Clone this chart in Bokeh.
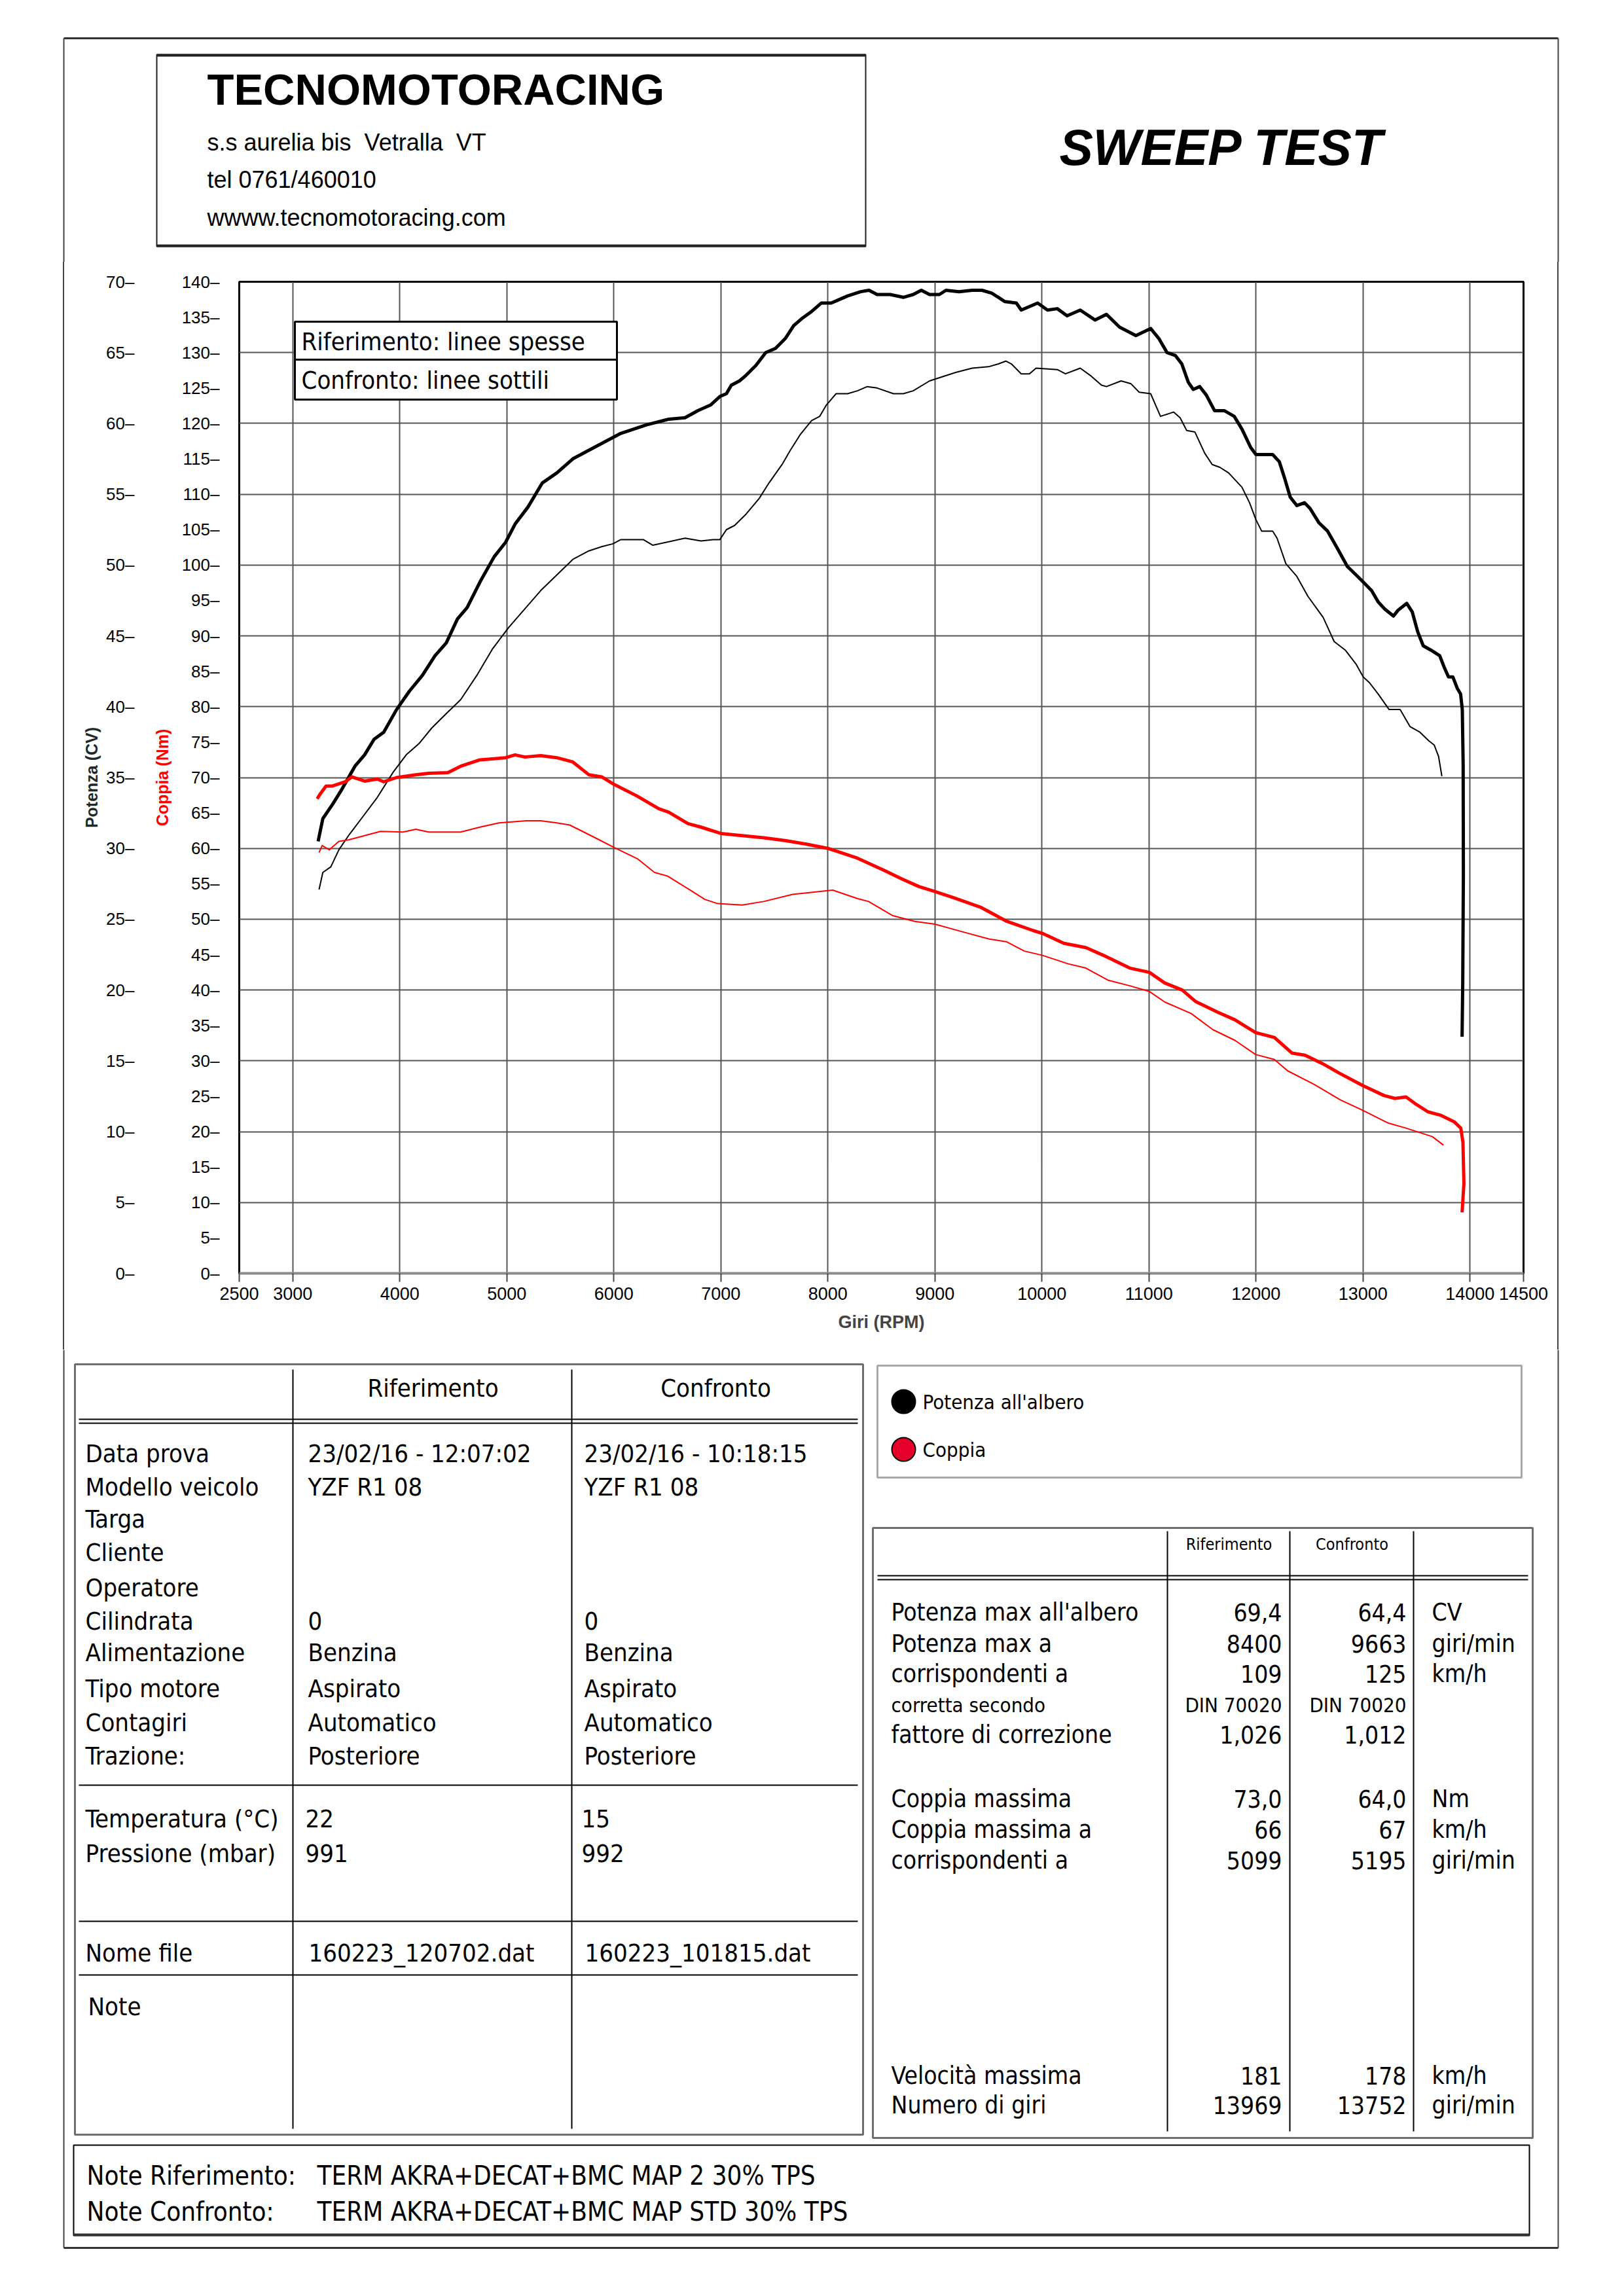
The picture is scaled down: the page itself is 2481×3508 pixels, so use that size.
from bokeh.plotting import figure
from bokeh.models import (Range1d, LinearAxis, FixedTicker, CustomJSTickFormatter,
                          BoxAnnotation, Label, Div)
from bokeh.layouts import column, row
from bokeh.embed import file_html
from bokeh.resources import INLINE

# ---------------------------------------------------------------- data
RPM_TICKS = [2500, 3000, 4000, 5000, 6000, 7000, 8000, 9000, 10000, 11000, 12000, 13000, 14000, 14500]
RPM_GRID = [3000, 4000, 5000, 6000, 7000, 8000, 9000, 10000, 11000, 12000, 13000, 14000]
CV_TICKS = [0, 5, 10, 15, 20, 25, 30, 35, 40, 45, 50, 55, 60, 65, 70]
NM_TICKS = [0, 5, 10, 15, 20, 25, 30, 35, 40, 45, 50, 55, 60, 65, 70, 75, 80, 85, 90, 95,
            100, 105, 110, 115, 120, 125, 130, 135, 140]
NM_GRID = [10, 20, 30, 40, 50, 60, 70, 80, 90, 100, 110, 120, 130]

ref_power_rpm = [3237, 3281, 3371, 3461, 3581, 3671, 3760, 3850, 3970, 4090, 4210, 4329, 4434, 4539,
                 4629, 4749, 4883, 4988, 5078, 5198, 5332, 5467, 5617, 5766, 5916, 6066, 6305, 6515,
                 6665, 6784, 6904, 6991, 7052, 7098, 7174, 7236, 7328, 7419, 7511, 7603, 7680, 7756,
                 7848, 7940, 8031, 8093, 8185, 8307, 8384, 8460, 8582, 8705, 8797, 8873, 8950, 9042,
                 9103, 9225, 9348, 9440, 9531, 9654, 9761, 9807, 9960, 10052, 10144, 10235, 10358,
                 10496, 10603, 10725, 10878, 11016, 11092, 11169, 11246, 11307, 11368, 11414, 11475,
                 11536, 11613, 11704, 11797, 11869, 11951, 12000, 12094, 12156, 12218, 12269, 12320,
                 12382, 12454, 12505, 12587, 12669, 12752, 12854, 12936, 13002, 13080, 13142, 13203,
                 13285, 13326, 13409, 13460, 13511, 13563, 13634, 13717, 13758, 13799, 13840, 13881,
                 13912, 13928, 13936, 13938, 13932, 13926]
ref_power_cv = [30.5, 32.1, 33.1, 34.2, 35.8, 36.6, 37.7, 38.2, 39.8, 41.1, 42.2, 43.6, 44.5, 46.2,
                47.0, 48.8, 50.6, 51.6, 52.9, 54.1, 55.8, 56.5, 57.5, 58.1, 58.7, 59.3, 59.9, 60.3,
                60.4, 60.9, 61.3, 61.9, 62.1, 62.7, 63.0, 63.4, 64.1, 65.0, 65.3, 66.0, 66.9, 67.4,
                67.9, 68.5, 68.5, 68.7, 69.0, 69.3, 69.4, 69.1, 69.1, 68.9, 69.1, 69.4, 69.1, 69.1,
                69.4, 69.3, 69.4, 69.4, 69.2, 68.6, 68.5, 68.0, 68.5, 68.0, 68.1, 67.6, 68.0,
                67.3, 67.7, 66.8, 66.2, 66.7, 66.0, 65.0, 64.8, 64.2, 62.9, 62.4, 62.6,
                62.0, 60.9, 60.9, 60.5, 59.6, 58.3, 57.8, 57.8, 57.8, 57.3, 56.1, 54.8,
                54.2, 54.4, 54.0, 53.0, 52.4, 51.3, 49.9, 49.3, 48.8, 48.2, 47.4, 46.9,
                46.4, 46.8, 47.3, 46.7, 45.3, 44.3, 44.0, 43.6, 42.8, 42.1, 42.1, 41.3,
                40.9, 39.8, 35.9, 28.2, 20.5, 16.7]

conf_power_rpm = [3246, 3281, 3356, 3431, 3521, 3671, 3790, 3940, 4060, 4180, 4299, 4419, 4569, 4719,
                  4868, 5018, 5168, 5317, 5467, 5617, 5766, 5886, 5991, 6066, 6275, 6365, 6665, 6814,
                  6930, 6991, 7052, 7129, 7236, 7358, 7450, 7572, 7649, 7741, 7848, 7924, 7986, 8077,
                  8185, 8276, 8368, 8460, 8613, 8705, 8797, 8950, 9072, 9195, 9348, 9501, 9593, 9663,
                  9715, 9807, 9883, 9945, 10144, 10220, 10358, 10450, 10557, 10603, 10740, 10832,
                  10909, 11016, 11108, 11230, 11291, 11353, 11429, 11521, 11591, 11663, 11745, 11869,
                  11940, 12000, 12053, 12156, 12197, 12279, 12382, 12485, 12628, 12731, 12834, 12936,
                  13002, 13060, 13142, 13244, 13347, 13439, 13532, 13614, 13665, 13706, 13737]
conf_power_cv = [27.1, 28.3, 28.7, 29.9, 30.9, 32.4, 33.6, 35.4, 36.6, 37.4, 38.5, 39.4, 40.5, 42.2,
                 44.1, 45.6, 46.9, 48.2, 49.3, 50.4, 51.0, 51.3, 51.5, 51.8, 51.8, 51.4, 51.9, 51.7,
                 51.8, 51.8, 52.5, 52.8, 53.6, 54.7, 55.8, 57.1, 58.1, 59.2, 60.2, 60.5, 61.3, 62.1,
                 62.1, 62.3, 62.6, 62.5, 62.1, 62.1, 62.3, 63.0, 63.3, 63.6, 63.9, 64.0, 64.2, 64.4,
                 64.2, 63.5, 63.5, 63.9, 63.8, 63.5, 63.9, 63.4, 62.7, 62.6, 63.0, 62.8,
                 62.2, 62.1, 60.5, 60.8, 60.4, 59.5, 59.4, 57.9, 57.1, 56.9, 56.5, 55.5,
                 54.4, 53.2, 52.4, 52.4, 51.9, 50.1, 49.2, 47.8, 46.3, 44.6, 44.0, 43.0,
                 42.1, 41.7, 40.9, 39.8, 39.8, 38.6, 38.2, 37.6, 37.3, 36.5, 35.1]

ref_torque_rpm = [3228, 3257, 3311, 3371, 3491, 3551, 3671, 3790, 3850, 3970, 4150, 4269, 4449, 4569,
                  4749, 4988, 5078, 5168, 5317, 5467, 5617, 5766, 5886, 6006, 6216, 6420, 6515, 6693,
                  6814, 7000, 7200, 7400, 7600, 7800, 8000, 8263, 8525, 8689, 8852, 9000, 9180, 9426,
                  9672, 9918, 10004, 10205, 10410, 10574, 10820, 11004, 11148, 11311, 11434, 11639,
                  11803, 11996, 12172, 12336, 12459, 12623, 12787, 13000, 13197, 13299, 13402, 13484,
                  13607, 13730, 13852, 13914, 13934, 13943, 13926]
ref_torque_nm = [67.0, 67.7, 68.8, 68.8, 69.4, 70.1, 69.5, 69.8, 69.4, 70.0, 70.4, 70.6, 70.7, 71.6,
                 72.5, 72.8, 73.2, 72.9, 73.1, 72.8, 72.2, 70.4, 70.1, 69.0, 67.4, 65.6, 65.1, 63.5,
                 63.0, 62.1, 61.8, 61.5, 61.1, 60.6, 60.0, 58.7, 56.9, 55.7, 54.6, 53.9, 53.0, 51.7,
                 49.7, 48.4, 48.0, 46.6, 46.0, 44.9, 43.1, 42.5, 41.0, 40.0, 38.4, 36.9,
                 35.8, 34.0, 33.3, 31.1, 30.8, 29.6, 28.2, 26.5, 25.1, 24.7, 24.9, 24.0,
                 22.8, 22.3, 21.4, 20.5, 18.5, 12.7, 8.6]

conf_torque_rpm = [3246, 3275, 3341, 3431, 3521, 3671, 3820, 4030, 4150, 4269, 4569, 4749, 4928, 5184,
                   5317, 5467, 5587, 5707, 5826, 6006, 6224, 6380, 6500, 6693, 6850, 6970, 7200, 7400,
                   7670, 8045, 8279, 8380, 8607, 8811, 9000, 9262, 9508, 9672, 9836, 10004, 10246,
                   10410, 10615, 10820, 11004, 11148, 11393, 11598, 11803, 11996, 12172, 12295, 12541,
                   12787, 13000, 13238, 13402, 13525, 13648, 13752]
conf_torque_nm = [59.4, 60.4, 59.8, 61.0, 61.2, 61.8, 62.4, 62.3, 62.7, 62.3, 62.3, 63.0, 63.6, 63.9,
                  63.9, 63.6, 63.3, 62.4, 61.5, 60.1, 58.5, 56.6, 56.1, 54.3, 52.8, 52.2, 52.0, 52.5,
                  53.5, 54.1, 52.9, 52.5, 50.5, 49.7, 49.3, 48.2, 47.2, 46.8, 45.5, 44.9, 43.7,
                  43.1, 41.4, 40.6, 39.8, 38.3, 36.7, 34.4, 32.9, 30.9, 30.2, 28.6, 26.7,
                  24.5, 23.0, 21.2, 20.5, 19.9, 19.3, 18.1]

# table contents
COMPANY = "TECNOMOTORACING"
ADDRESS = ["s.s aurelia bis  Vetralla  VT", "tel 0761/460010", "wwww.tecnomotoracing.com"]
TITLE = "SWEEP TEST"
BOX_LINES = ["Riferimento: linee spesse", "Confronto: linee sottili"]
COL_HEADS = ["Riferimento", "Confronto"]
INFO_LABELS = ["Data prova", "Modello veicolo", "Targa", "Cliente", "Operatore", "Cilindrata",
               "Alimentazione", "Tipo motore", "Contagiri", "Trazione:"]
INFO_RIF = ["23/02/16 - 12:07:02", "YZF R1 08", "", "", "", "0", "Benzina", "Aspirato",
            "Automatico", "Posteriore"]
INFO_CONF = ["23/02/16 - 10:18:15", "YZF R1 08", "", "", "", "0", "Benzina", "Aspirato",
             "Automatico", "Posteriore"]
ENV_LABELS = ["Temperatura (°C)", "Pressione (mbar)"]
ENV_RIF = ["22", "991"]
ENV_CONF = ["15", "992"]
FILE_LABEL = "Nome file"
FILE_RIF = "160223_120702.dat"
FILE_CONF = "160223_101815.dat"
NOTE_LABEL = "Note"
LEGEND_ITEMS = ["Potenza all'albero", "Coppia"]
LEGEND_COLORS = ["black", "#e4002b"]
PERF_LABELS = ["Potenza max all'albero", "Potenza max a", "corrispondenti a", "corretta secondo",
               "fattore di correzione", "Coppia massima", "Coppia massima a", "corrispondenti a",
               "Velocità massima", "Numero di giri"]
PERF_RIF = ["69,4", "8400", "109", "DIN 70020", "1,026", "73,0", "66", "5099", "181", "13969"]
PERF_CONF = ["64,4", "9663", "125", "DIN 70020", "1,012", "64,0", "67", "5195", "178", "13752"]
PERF_UNITS = ["CV", "giri/min", "km/h", "", "", "Nm", "km/h", "giri/min", "km/h", "giri/min"]
NOTES_LABELS = ["Note Riferimento:", "Note Confronto:"]
NOTES_TEXT = ["TERM AKRA+DECAT+BMC MAP 2 30% TPS", "TERM AKRA+DECAT+BMC MAP STD 30% TPS"]

# ---------------------------------------------------------------- styling
TF = "DejaVu Sans Condensed"
AF = "Liberation Sans"
BORDER = "#444444"
PAGE_W = 2480


def page_fig(x0, x1, y0, y1):
    p = figure(width=x1 - x0, height=y1 - y0, x_range=Range1d(x0, x1), y_range=Range1d(y1, y0),
               output_backend="svg", toolbar_location=None, x_axis_location=None,
               y_axis_location=None, min_border=0)
    p.outline_line_color = None
    p.xgrid.visible = False
    p.ygrid.visible = False
    p.background_fill_color = "white"
    p.border_fill_color = "white"
    return p


def seg(p, x0, y0, x1, y1, w=2, c="black"):
    p.segment(x0=[x0], y0=[y0], x1=[x1], y1=[y1], line_width=w, line_color=c)


def box(p, l, t, r, b, w=2, c="black"):
    p.quad(left=[l], right=[r], top=[t], bottom=[b], fill_color=None, line_color=c, line_width=w)


def txt(p, x, y, s, size, font=TF, style="normal", align="left", color="black"):
    if not s:
        return
    p.add_layout(Label(x=x, y=y, text=s.replace("  ", "\u00a0 "), text_font=font,
                       text_font_size=f"{size}px", text_font_style=style, text_align=align,
                       text_baseline="middle", text_color=color))


# ---------------------------------------------------------------- header
head = page_fig(0, PAGE_W, 0, 400)
seg(head, 97, 58, 2380, 58, 3, "#333333")
seg(head, 97, 58, 97, 400, 2, BORDER)
seg(head, 2380, 58, 2380, 400, 2, BORDER)
box(head, 239, 83, 1322, 376, 2, "#222222")
seg(head, 239, 84, 1322, 84, 4, "#222222")
seg(head, 239, 375, 1322, 375, 4, "#222222")
txt(head, 316, 136, COMPANY, 67, AF, "bold")
for s, y in zip(ADDRESS, [217, 274, 332]):
    txt(head, 316, y, s, 36, AF)
txt(head, 1618, 224, TITLE, 77, AF, "bold italic")

# ---------------------------------------------------------------- chart
CX0, CX1 = 98, 2379
FL, FR, FT, FB = 365, 2327, 430, 1945
chart = figure(width=CX1 - CX0, height=1662, x_range=Range1d(2500, 14500), y_range=Range1d(0, 140),
               output_backend="svg", toolbar_location=None,
               min_border_left=FL - CX0, min_border_right=CX1 - FR,
               min_border_top=FT - 400, min_border_bottom=2062 - FB)
chart.extra_y_ranges = {"cv": Range1d(0, 70)}
chart.outline_line_color = "black"
chart.outline_line_width = 3
chart.background_fill_color = "white"
chart.border_fill_color = "white"

xa = chart.xaxis[0]
xa.ticker = FixedTicker(ticks=RPM_TICKS)
xa.formatter = CustomJSTickFormatter(code="return tick.toFixed(0);")
xa.major_label_text_font = AF
xa.major_label_text_font_size = "27px"
xa.major_label_text_color = "black"
xa.major_tick_out = 13
xa.major_tick_in = 0
xa.minor_tick_out = 0
xa.minor_tick_in = 0
xa.major_tick_line_color = "#444444"
xa.major_tick_line_width = 2
xa.axis_line_color = "#8c8c8c"
xa.axis_line_width = 4
xa.major_label_standoff = 8
xa.axis_label = "Giri (RPM)"
xa.axis_label_text_font = AF
xa.axis_label_text_font_style = "bold"
xa.axis_label_text_font_size = "27px"
xa.axis_label_standoff = 16


def style_y(ax, label, color, standoff, label_standoff):
    ax.formatter = CustomJSTickFormatter(code="return tick.toFixed(0) + '\u2013';")
    ax.major_tick_out = 0
    ax.major_tick_in = 0
    ax.minor_tick_out = 0
    ax.minor_tick_in = 0
    ax.axis_line_color = None
    ax.major_label_text_font = AF
    ax.major_label_text_font_size = "26px"
    ax.major_label_text_color = "black"
    ax.major_label_standoff = standoff
    ax.axis_label = label
    ax.axis_label_text_font = AF
    ax.axis_label_text_font_style = "bold"
    ax.axis_label_text_font_size = "25px"
    ax.axis_label_text_color = color
    ax.axis_label_standoff = label_standoff


ya = chart.yaxis[0]
ya.ticker = FixedTicker(ticks=NM_TICKS)
style_y(ya, "Coppia (Nm)", "#ff0000", 30, 13)
cva = LinearAxis(y_range_name="cv", ticker=FixedTicker(ticks=CV_TICKS))
style_y(cva, "Potenza (CV)", "#1e2a2a", 25, 5)
chart.add_layout(cva, "left")

chart.xgrid.ticker = FixedTicker(ticks=RPM_GRID)
chart.ygrid.ticker = FixedTicker(ticks=NM_GRID)
chart.grid.grid_line_color = "#555555"
chart.grid.grid_line_width = 2

chart.line(conf_power_rpm, conf_power_cv, y_range_name="cv", line_width=2, line_color="black",
           line_join="round")
chart.line(conf_torque_rpm, conf_torque_nm, line_width=2, line_color="#ff0000", line_join="round")
chart.line(ref_power_rpm, ref_power_cv, y_range_name="cv", line_width=5, line_color="black",
           line_join="round")
chart.line(ref_torque_rpm, ref_torque_nm, line_width=5, line_color="#ff0000", line_join="round")


def rx(px):
    return 2500 + (px - FL) / (FR - FL) * 12000


def ry(py):
    return (FB - py) / (FB - FT) * 140


for (t, b) in [(491, 549), (549, 610)]:
    chart.add_layout(BoxAnnotation(left=rx(450), right=rx(942), top=ry(t), bottom=ry(b),
                                   fill_color="white", fill_alpha=1.0, line_color="black",
                                   line_width=3, line_alpha=1.0))
for s, y in zip(BOX_LINES, [521, 580]):
    chart.add_layout(Label(x=rx(460), y=ry(y), text=s, text_font=TF, text_font_size="38px",
                           text_baseline="middle", text_color="black"))

strip_l = Div(text="", width=CX0, height=1662, margin=0,
              styles={"border-right": "2px solid #444444", "box-sizing": "border-box"})
strip_r = Div(text="", width=PAGE_W - CX1, height=1662, margin=0,
              styles={"border-left": "2px solid #444444", "box-sizing": "border-box"})

# ---------------------------------------------------------------- tables
bot = page_fig(0, PAGE_W, 2062, 3470)
seg(bot, 97, 2062, 97, 3434, 2, BORDER)
seg(bot, 2380, 2062, 2380, 3434, 2, BORDER)
seg(bot, 97, 3434, 2380, 3434, 3, "#333333")

LS = 38
# left table
box(bot, 114, 2084, 1318, 3261, 3, "#6e6e6e")
for x in [447, 873]:
    seg(bot, x, 2092, x, 3252, 2)
for y in [2168, 2174, 2727, 2935, 3017]:
    seg(bot, 120, y, 1310, y, 2)
txt(bot, 661, 2120, COL_HEADS[0], LS, align="center")
txt(bot, 1093, 2120, COL_HEADS[1], LS, align="center")
info_y = [2220, 2271, 2320, 2371, 2425, 2476, 2524, 2579, 2631, 2682]
for lab, r, c, y in zip(INFO_LABELS, INFO_RIF, INFO_CONF, info_y):
    txt(bot, 130, y, lab, LS)
    txt(bot, 470, y, r, LS)
    txt(bot, 892, y, c, LS)
for lab, r, c, y in zip(ENV_LABELS, ENV_RIF, ENV_CONF, [2778, 2831]):
    txt(bot, 130, y, lab, LS)
    txt(bot, 466, y, r, LS)
    txt(bot, 888, y, c, LS)
txt(bot, 130, 2983, FILE_LABEL, LS)
txt(bot, 471, 2983, FILE_RIF, LS)
txt(bot, 893, 2983, FILE_CONF, LS)
txt(bot, 134, 3065, NOTE_LABEL, LS)

# legend box
box(bot, 1340, 2086, 2324, 2257, 3, "#a8a8a8")
bot.scatter(x=[1380, 1380], y=[2141, 2214], size=36, marker="circle",
            fill_color=LEGEND_COLORS, line_color="black", line_width=2)
for s, y in zip(LEGEND_ITEMS, [2141, 2214]):
    txt(bot, 1409, y, s, 31)

# right table
box(bot, 1333, 2334, 2341, 3266, 3, "#6e6e6e")
for x in [1783, 1970, 2159]:
    seg(bot, x, 2339, x, 3256, 2)
for y in [2407, 2413]:
    seg(bot, 1340, y, 2334, y, 2)
txt(bot, 1877, 2359, COL_HEADS[0], 25, align="center")
txt(bot, 2065, 2359, COL_HEADS[1], 25, align="center")
perf_y = [2463, 2511, 2557, 2604, 2650, 2748, 2795, 2842, 3171, 3216]
for i, (lab, r, c, u, y) in enumerate(zip(PERF_LABELS, PERF_RIF, PERF_CONF, PERF_UNITS, perf_y)):
    sz = 31 if i == 3 else 37
    txt(bot, 1361, y, lab, sz)
    txt(bot, 1958, y, r, sz, align="right")
    txt(bot, 2148, y, c, sz, align="right")
    txt(bot, 2187, y, u, sz)

# notes
box(bot, 112, 3277, 2336, 3415, 2, "black")
seg(bot, 112, 3414, 2336, 3414, 4, "#333333")
for lab, s, y in zip(NOTES_LABELS, NOTES_TEXT, [3323, 3378]):
    txt(bot, 132, y, lab, 40)
    txt(bot, 484, y, s, 40)

layout = column(head, row(strip_l, chart, strip_r), bot)
open("out.html", "w").write(file_html(layout, INLINE))
